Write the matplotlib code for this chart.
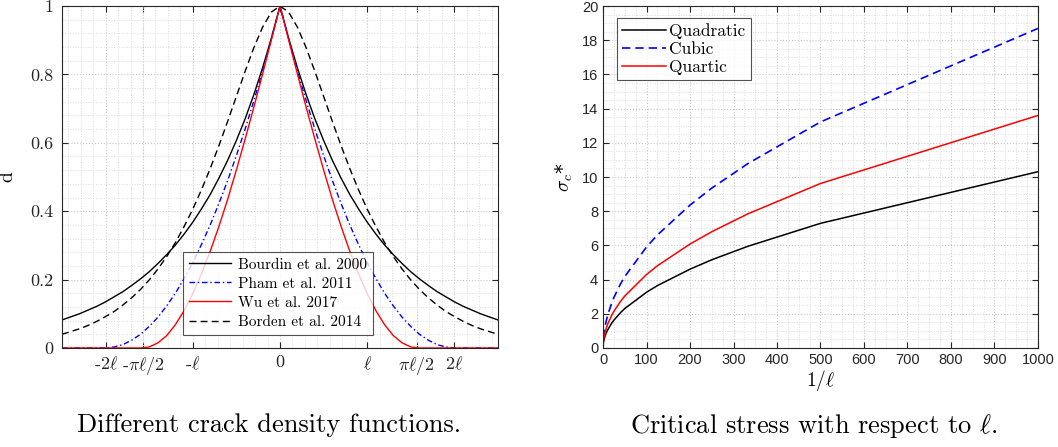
import numpy as np
import matplotlib
matplotlib.use("Agg")
import matplotlib.pyplot as plt
from matplotlib.ticker import MultipleLocator

plt.rcParams['mathtext.fontset'] = 'cm'
plt.rcParams['axes.unicode_minus'] = False

# --- left panel: crack density profiles, x in units of ell (symmetric, right half given)
x_half = [0.0, 0.1, 0.2, 0.3, 0.4, 0.5, 0.6, 0.7, 0.8, 0.9, 1.0, 1.1, 1.2,
          1.3, 1.4, 1.5, 1.6, 1.7, 1.8, 1.9, 2.0, 2.1, 2.2, 2.3, 2.4, 2.5]
d_bourdin = [1.0, 0.905, 0.819, 0.741, 0.670, 0.607, 0.549, 0.497, 0.449, 0.407, 0.368,
             0.333, 0.301, 0.273, 0.247, 0.223, 0.202, 0.183, 0.165, 0.150, 0.135,
             0.122, 0.111, 0.100, 0.091, 0.082]
d_pham = [1.0, 0.903, 0.810, 0.723, 0.640, 0.563, 0.490, 0.423, 0.360, 0.303, 0.250,
          0.203, 0.160, 0.123, 0.090, 0.063, 0.040, 0.023, 0.010, 0.003, 0.0,
          0.0, 0.0, 0.0, 0.0, 0.0]
d_wu = [1.0, 0.900, 0.801, 0.704, 0.611, 0.521, 0.435, 0.356, 0.283, 0.217, 0.159,
        0.109, 0.068, 0.036, 0.015, 0.003, 0.0, 0.0, 0.0, 0.0, 0.0,
        0.0, 0.0, 0.0, 0.0, 0.0]
d_borden = [1.0, 0.982, 0.938, 0.878, 0.809, 0.736, 0.663, 0.592, 0.525, 0.463, 0.406,
            0.355, 0.308, 0.267, 0.231, 0.199, 0.171, 0.147, 0.126, 0.107, 0.092,
            0.078, 0.066, 0.056, 0.048, 0.040]
left_ticks = [-2, -np.pi / 2, -1, 0, 1, np.pi / 2, 2]
left_ticklabels = [r'-2$\ell$', r'-$\pi\ell/2$', r'-$\ell$', '0', r'$\ell$', r'$\pi\ell/2$', r'2$\ell$']
left_yticks = [0, 0.2, 0.4, 0.6, 0.8, 1.0]
left_yticklabels = ['0', '0.2', '0.4', '0.6', '0.8', '1']

# --- right panel: critical stress vs 1/ell
inv_ell = [1, 2, 4, 5, 10, 20, 25, 40, 50, 100, 125, 200, 250, 333.3, 500, 1000]
sig_quadratic = [0.33, 0.46, 0.65, 0.73, 1.03, 1.46, 1.63, 2.06, 2.31, 3.26, 3.65,
                 4.61, 5.16, 5.95, 7.29, 10.31]
sig_cubic = [0.59, 0.84, 1.18, 1.32, 1.87, 2.64, 2.96, 3.74, 4.18, 5.91, 6.61,
             8.36, 9.35, 10.79, 13.22, 18.69]
sig_quartic = [0.43, 0.61, 0.86, 0.96, 1.36, 1.92, 2.15, 2.72, 3.04, 4.30, 4.81,
               6.08, 6.80, 7.85, 9.62, 13.60]


def mirror(vals):
    vals = np.asarray(vals, dtype=float)
    return np.concatenate([vals[::-1], vals[1:]])


xs = np.concatenate([-np.asarray(x_half)[::-1], np.asarray(x_half)[1:]])

axc = '#262626'
fig = plt.figure(figsize=(10.58, 4.47), dpi=100)
ax1 = fig.add_axes([0.0586, 0.2215, 0.4121, 0.765])
ax2 = fig.add_axes([0.570, 0.2215, 0.411, 0.765])


def style(ax):
    for s in ax.spines.values():
        s.set_color(axc)
        s.set_linewidth(0.8)
    ax.tick_params(which='both', direction='in', top=True, right=True, colors=axc)
    ax.tick_params(which='major', length=4, width=0.8)
    ax.tick_params(which='minor', length=0)
    ax.grid(which='major', linestyle=':', color='#c8c8c8', lw=0.8)
    ax.grid(which='minor', linestyle=':', color='#dcdcdc', lw=0.7)
    ax.set_axisbelow(True)


# left
ax1.plot(xs, mirror(d_bourdin), color='k', lw=1.0, label='Bourdin et al. 2000')
ax1.plot(xs, mirror(d_pham), color='b', lw=1.0, dashes=(4, 2, 1, 2), label='Pham et al. 2011')
ax1.plot(xs, mirror(d_wu), color='r', lw=1.0, label='Wu et al. 2017')
ax1.plot(xs, mirror(d_borden), color='k', lw=1.0, dashes=(5, 3), label='Borden et al. 2014')
ax1.set_xlim(-2.5, 2.5)
ax1.set_ylim(0, 1)
ax1.set_xticks(left_ticks)
ax1.set_xticklabels(left_ticklabels, fontfamily='cmr10', fontsize=13)
ax1.set_yticks(left_yticks)
ax1.set_yticklabels(left_yticklabels, fontfamily='cmr10', fontsize=13)
ax1.xaxis.set_minor_locator(MultipleLocator(1 / 7))
ax1.yaxis.set_minor_locator(MultipleLocator(0.04))
ax1.tick_params(axis='x', pad=5)
ax1.tick_params(axis='y', pad=6)
style(ax1)
ax1.set_ylabel('d', fontfamily='cmr10', fontsize=14, labelpad=10)
leg1 = ax1.legend(loc='lower left', bbox_to_anchor=(0.278, 0.038), frameon=True, fancybox=False,
                  prop={'family': 'cmr10', 'size': 11}, handlelength=2.7, borderpad=0.4,
                  labelspacing=0.35, handletextpad=0.5, borderaxespad=0)
leg1.get_frame().set_edgecolor(axc)
leg1.get_frame().set_linewidth(0.8)

# right
ax2.plot(inv_ell, sig_quadratic, color='k', lw=1.1, label='Quadratic')
ax2.plot(inv_ell, sig_cubic, color='b', lw=1.2, dashes=(5, 3), label='Cubic')
ax2.plot(inv_ell, sig_quartic, color='r', lw=1.1, label='Quartic')
ax2.set_xlim(0, 1000)
ax2.set_ylim(0, 20)
ax2.xaxis.set_major_locator(MultipleLocator(100))
ax2.yaxis.set_major_locator(MultipleLocator(2))
ax2.xaxis.set_minor_locator(MultipleLocator(25))
ax2.yaxis.set_minor_locator(MultipleLocator(0.5))
style(ax2)
for lab in ax2.get_xticklabels() + ax2.get_yticklabels():
    lab.set_fontfamily('Liberation Sans')
    lab.set_fontsize(10.5)
ax2.set_xlabel(r'$1/\ell$', fontsize=14, labelpad=1)
ax2.set_ylabel(r'$\sigma_c$*', fontsize=14, labelpad=5)
leg2 = ax2.legend(loc='upper left', bbox_to_anchor=(0.032, 0.965), frameon=True, fancybox=False,
                  prop={'family': 'cmr10', 'size': 12.5}, handlelength=2.5, borderpad=0.3,
                  labelspacing=0.15, handletextpad=0.2, borderaxespad=0)
leg2.get_frame().set_edgecolor(axc)
leg2.get_frame().set_linewidth(0.8)

fig.text(0.254, 0.048, 'Different crack density functions.', fontfamily='cmr10', fontsize=19,
         ha='center', va='center')
fig.text(0.769, 0.048, r'Critical stress with respect to $\ell$.', fontfamily='cmr10', fontsize=19,
         ha='center', va='center')

fig.savefig('out.png', dpi=100)
